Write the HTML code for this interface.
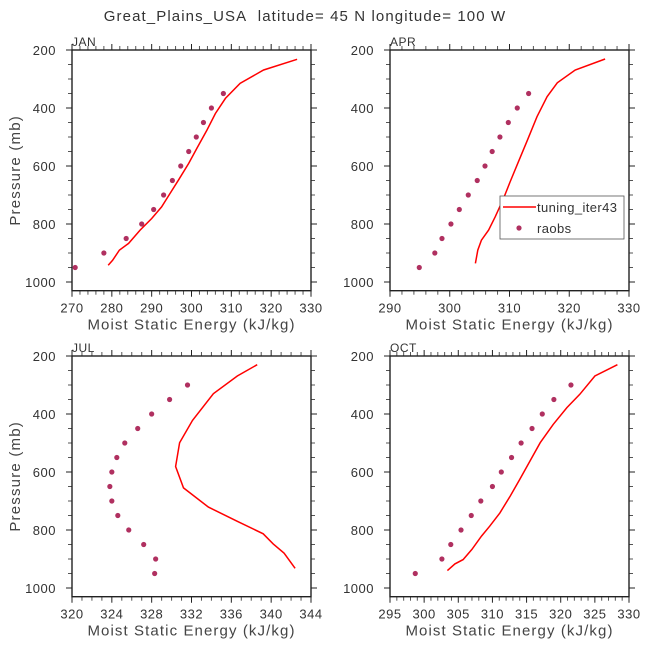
<!DOCTYPE html>
<html><head><meta charset="utf-8"><style>
body{margin:0;background:#fff}
svg{display:block;font-family:"Liberation Sans",sans-serif}
</style></head><body>
<svg id="c" width="648" height="648" viewBox="0 0 648 648">
<rect width="648" height="648" fill="#fff"/>
<text x="305" y="21" text-anchor="middle" font-size="15" letter-spacing="1.1" fill="#333">Great_Plains_USA&#160; latitude= 45 N longitude= 100 W</text>
</svg>
<script>
const janLineE=[326.5,318.1,312.2,308.5,306,303.9,301.3,299.3,296.7,294.6,292.5,290,287.1,284.2,281.9,280.2,279.1];
const janLineP=[232,269,315,367,419,476,540,591,649,695,741,781,821,867,890,925,942];
const janObsE=[270.8,278,283.6,287.5,290.5,293,295.2,297.3,299.3,301.2,303,305,308];
const janObsP=[950,900,850,800,750,700,650,600,550,500,450,400,350];
const aprLineE=[326,321,318,316.3,314.6,313,311.5,310.1,309,307.6,306.5,305.3,304.7,304.3];
const aprLineP=[231,269,313,361,430,511,585,655,712,775,821,856,890,936];
const aprObsE=[294.9,297.5,298.7,300.2,301.6,303.1,304.6,305.9,307.1,308.4,309.8,311.3,313.2];
const aprObsP=[950,900,850,800,750,700,650,600,550,500,450,400,350];
const julLineE=[338.6,336.6,334.2,332.1,330.8,330.4,331.2,333.7,336.6,339.2,340.2,341.3,342.4];
const julLineP=[230,269,330,422,499,581,655,721,770,813,848,880,932];
const julObsE=[331.6,329.8,328.0,326.6,325.3,324.5,324.0,323.8,324.0,324.6,325.7,327.2,328.4,328.3];
const julObsP=[300,350,400,450,500,550,600,650,700,750,800,850,900,950];
const octLineE=[328.3,325,322.8,320.9,318.9,317,315.5,314,312.6,311.1,309.6,308.4,307,305.7,304.5,303.4];
const octLineP=[230,269,332,378,436,499,562,626,683,741,787,821,867,902,917,940];
const octObsE=[298.7,302.6,303.9,305.4,306.9,308.3,310,311.3,312.8,314.2,315.8,317.3,319,321.5];
const octObsP=[950,900,850,800,750,700,650,600,550,500,450,400,350,300];
const yTicks=[200,400,600,800,1000];

const svg=document.getElementById('c');
const NS='http://www.w3.org/2000/svg';
function mk(tag,attrs,parent){const e=document.createElementNS(NS,tag);for(const k in attrs)e.setAttribute(k,attrs[k]);(parent||svg).appendChild(e);return e;}

const panels=[
 {name:'jan',label:'JAN',x0:72,x1:311,top:50,min:270,max:330,major:10,minor:2,le:janLineE,lp:janLineP,oe:janObsE,op:janObsP,ytitle:true},
 {name:'apr',label:'APR',x0:390,x1:629,top:50,min:290,max:330,major:10,minor:2,le:aprLineE,lp:aprLineP,oe:aprObsE,op:aprObsP,legend:true},
 {name:'jul',label:'JUL',x0:72,x1:311,top:356,min:320,max:344,major:4,minor:1,le:julLineE,lp:julLineP,oe:julObsE,op:julObsP,ytitle:true},
 {name:'oct',label:'OCT',x0:390,x1:629,top:356,min:295,max:330,major:5,minor:1,le:octLineE,lp:octLineP,oe:octObsE,op:octObsP}
];
const pScale=232/800, pMax=1030;
panels.forEach(pn=>{
 const g=mk('g',{});
 
 
 const xs=v=>pn.x0+(v-pn.min)*(pn.x1-pn.x0)/(pn.max-pn.min);
 const ys=p=>pn.top+(p-200)*pScale;
 const bot=ys(pMax);
 for(let v=pn.min;v<=pn.max+1e-6;v+=pn.minor){
  const isM=Math.abs(((v-pn.min)/pn.major)-Math.round((v-pn.min)/pn.major))<1e-6;
  const L=isM?6:4;const x=xs(v);const col=isM?'#222':'#555';
  mk('line',{x1:x,x2:x,y1:bot,y2:bot+L,stroke:col,'stroke-width':1},g);
  mk('line',{x1:x,x2:x,y1:pn.top-L,y2:pn.top,stroke:col,'stroke-width':1},g);
  if(isM){const t=mk('text',{x:x,y:bot+22,'text-anchor':'middle','font-size':13,'letter-spacing':0.5,fill:'#333'},g);t.textContent=Math.round(v);
   
   }
 }
 for(let p=200;p<=1000;p+=50){
  const isM=p%200===0;const L=isM?6:4;const y=ys(p);const col=isM?'#222':'#555';
  mk('line',{x1:pn.x0-L,x2:pn.x0,y1:y,y2:y,stroke:col,'stroke-width':1},g);
  mk('line',{x1:pn.x1,x2:pn.x1+L,y1:y,y2:y,stroke:col,'stroke-width':1},g);
 }
 yTicks.forEach(p=>{const t=mk('text',{x:pn.x0-16,y:ys(p)+5,'text-anchor':'end','font-size':13,'letter-spacing':0.5,fill:'#333'},g);t.textContent=p;
  
  });
 const fr=mk('rect',{x:pn.x0,y:pn.top,width:pn.x1-pn.x0,height:bot-pn.top,fill:'none',stroke:'#222','stroke-width':1.4},g);
 
 
 const lb=mk('text',{x:pn.x0,y:pn.top-4,'font-size':12,'letter-spacing':0.5,fill:'#333'},g);lb.textContent=pn.label;
 
 
 const xt=mk('text',{x:(pn.x0+pn.x1)/2,y:bot+39,'text-anchor':'middle','font-size':15,'letter-spacing':1.1,fill:'#444'},g);xt.textContent='Moist Static Energy (kJ/kg)';
 
 
 if(pn.ytitle){const cy=(pn.top+bot)/2;const yt=mk('text',{x:20,y:cy,'text-anchor':'middle','font-size':15,'letter-spacing':1.2,fill:'#444',transform:`rotate(-90 20 ${cy})`},g);yt.textContent='Pressure (mb)';
  
  }
 const d=pn.le.map((e,i)=>(i?'L':'M')+xs(e).toFixed(1)+' '+ys(pn.lp[i]).toFixed(1)).join(' ');
 const ln=mk('path',{d:d,fill:'none',stroke:'#f00','stroke-width':1.5},g);
 
 
 pn.oe.forEach((e,i)=>{const c=mk('circle',{cx:xs(e),cy:ys(pn.op[i]),r:2.6,fill:'#b03060'},g);
  
  });
 if(pn.legend){
  const lg=mk('g',{},g);
  
  
  mk('rect',{x:500,y:196,width:124,height:43,fill:'#fff',stroke:'#555','stroke-width':0.8},lg);
  mk('line',{x1:503,x2:536,y1:207,y2:207,stroke:'#f00','stroke-width':1.5},lg);
  const t1=mk('text',{x:537,y:212,'font-size':13,'letter-spacing':0.4,fill:'#333'},lg);t1.textContent='tuning_iter43';
  
  
  mk('circle',{cx:519,cy:228,r:2.6,fill:'#b03060'},lg);
  const t2=mk('text',{x:537,y:233,'font-size':13,'letter-spacing':0.4,fill:'#333'},lg);t2.textContent='raobs';
  
  
 }
});
</script>
</body></html>
